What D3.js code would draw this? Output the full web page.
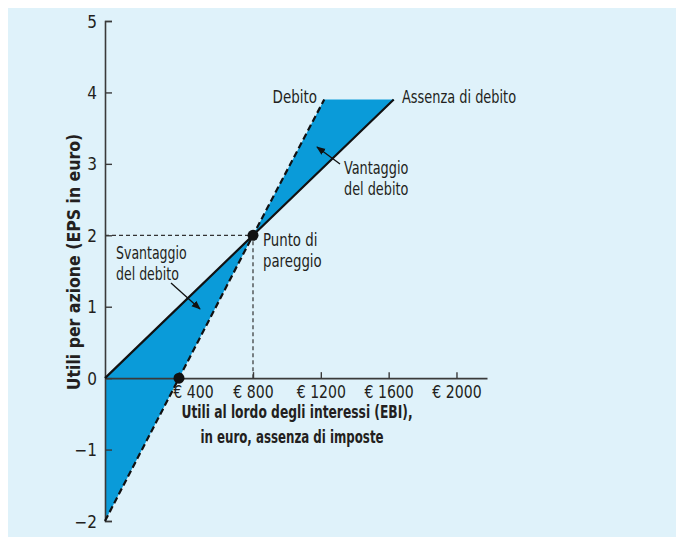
<!DOCTYPE html>
<html>
<head>
<meta charset="utf-8">
<script src="https://cdn.jsdelivr.net/npm/d3@7"></script>
<style>
  html, body { margin: 0; padding: 0; background: #ffffff; }
  svg text { font-family: "Liberation Sans Narrow", "DejaVu Sans Condensed", "Open Sans", sans-serif; font-stretch: condensed; fill: #231f20; }
</style>
</head>
<body>
<svg id="chart" width="676" height="537"></svg>
<script>
// EBI (euro) tick values and EPS tick values
const ebiTicks = [400, 800, 1200, 1600, 2000];
const epsTicks = [-2, -1, 0, 1, 2, 3, 4, 5];

// EPS as a function of EBI, read at the ends of each line and at break-even
const noDebtEBI = [0, 800, 1630];
const noDebtEPS = [0, 2, 3.9];
const debtEBI = [0, 800, 1220];
const debtEPS = [-2, 2, 3.9];

// break-even point and the EBI where EPS with debt becomes zero
const breakEven = [800, 2];
const zeroDebt = [400, 0];

const svg = d3.select("#chart");

// narrow a text run horizontally to a fraction of its natural width
function squeeze(sel, f) {
  sel.each(function () {
    const w = this.getComputedTextLength();
    d3.select(this).attr("textLength", w * f).attr("lengthAdjust", "spacingAndGlyphs");
  });
  return sel;
}

// light blue panel
svg.append("rect").attr("x", 8).attr("y", 8).attr("width", 668).attr("height", 529).attr("fill", "#dff2fa");

const x = d3.scaleLinear().domain([0, 800, 2180]).range([105, 253, 487]);
const y = d3.scaleLinear().domain([-2, 5]).range([521, 21]);

const noDebt = noDebtEBI.map((e, i) => [e, noDebtEPS[i]]);
const debt = debtEBI.map((e, i) => [e, debtEPS[i]]);

const line = d3.line().x(d => x(d[0])).y(d => y(d[1]));

// shaded areas between the two lines
const fill = "#0a9bd9";
svg.append("path")
  .attr("d", line([noDebt[0], noDebt[1], debt[0]]) + "Z")
  .attr("fill", fill);
svg.append("path")
  .attr("d", line([debt[1], debt[2], noDebt[2]]) + "Z")
  .attr("fill", fill);

// dashed guides to the break-even point
svg.append("path")
  .attr("d", `M${x(0)},${y(breakEven[1])}H${x(breakEven[0])}V${y(0)}`)
  .attr("fill", "none").attr("stroke", "#333").attr("stroke-width", 1.2)
  .attr("stroke-dasharray", "4,3");

// axes
const yAxis = d3.axisLeft(y).tickValues(epsTicks)
  .tickSizeInner(-7).tickSizeOuter(-7).tickPadding(8)
  .tickFormat(d => d < 0 ? "\u2212" + Math.abs(d) : d);
const gy = svg.append("g").attr("transform", `translate(${x(0)},0)`).call(yAxis);

const xAxis = d3.axisBottom(x).tickValues(ebiTicks)
  .tickSizeInner(-6).tickSizeOuter(0).tickPadding(8)
  .tickFormat(d => "\u20ac " + d);
const gx = svg.append("g").attr("transform", `translate(0,${y(0)})`).call(xAxis);

[gx, gy].forEach(g => {
  g.select(".domain").attr("stroke", "#3a3a3a").attr("stroke-width", 1.6);
  g.selectAll(".tick line").attr("stroke", "#3a3a3a").attr("stroke-width", 1.4);
  g.selectAll(".tick text").attr("font-size", 17).attr("fill", "#231f20")
    .style("font-family", null);
});
gx.selectAll(".tick text").attr("dx", d => d === 400 ? 14 : 0);
squeeze(gx.selectAll(".tick text"), 0.92);
gy.selectAll(".tick text").attr("dy", "0.36em");

// the two EPS lines
svg.append("path").attr("d", line(noDebt))
  .attr("fill", "none").attr("stroke", "#111").attr("stroke-width", 2.2);
svg.append("path").attr("d", line(debt))
  .attr("fill", "none").attr("stroke", "#111").attr("stroke-width", 2.2)
  .attr("stroke-dasharray", "6.5,3.5");

// markers
[breakEven, zeroDebt].forEach(p => {
  svg.append("circle").attr("cx", x(p[0])).attr("cy", y(p[1])).attr("r", 5.5).attr("fill", "#111");
});

// axis titles
squeeze(svg.append("text")
  .attr("transform", `translate(80,262) rotate(-90)`)
  .attr("text-anchor", "middle").attr("font-size", 17.5).attr("font-weight", "bold")
  .text("Utili per azione  (EPS in euro)"), 1.0);

function label(s, x0, y0, opts = {}) {
  const t = svg.append("text").attr("x", x0).attr("y", y0)
    .attr("font-size", opts.size || 17)
    .attr("font-weight", opts.bold ? "bold" : null)
    .attr("text-anchor", opts.anchor || "start")
    .text(s);
  return squeeze(t, opts.f || 0.86);
}

label("Utili al lordo degli interessi (EBI),", 297, 418, { bold: true, size: 17.5, anchor: "middle", f: 0.78 });
label("in euro, assenza di imposte", 292, 443, { bold: true, size: 17.5, anchor: "middle", f: 0.75 });

// line labels
label("Debito", 317, 103, { anchor: "end", f: 0.88 });
label("Assenza di debito", 402, 103, { f: 0.845 });

// region annotations
label("Punto di", 263, 246, { f: 0.87 });
label("pareggio", 263, 267, { f: 0.87 });
label("Vantaggio", 344, 174, { f: 0.84 });
label("del debito", 344, 195, { f: 0.84 });
label("Svantaggio", 116, 259, { f: 0.82 });
label("del debito", 116, 280, { f: 0.82 });

// arrow marker
svg.append("defs").append("marker")
  .attr("id", "arrow").attr("viewBox", "0 0 10 10").attr("refX", 9).attr("refY", 5)
  .attr("markerWidth", 7).attr("markerHeight", 7).attr("orient", "auto-start-reverse")
  .append("path").attr("d", "M0,1L10,5L0,9Z").attr("fill", "#111");

svg.append("line").attr("x1", 340).attr("y1", 164).attr("x2", 317).attr("y2", 147)
  .attr("stroke", "#111").attr("stroke-width", 1.3).attr("marker-end", "url(#arrow)");
svg.append("line").attr("x1", 171).attr("y1", 283).attr("x2", 200).attr("y2", 309)
  .attr("stroke", "#111").attr("stroke-width", 1.3).attr("marker-end", "url(#arrow)");
</script>
</body>
</html>
